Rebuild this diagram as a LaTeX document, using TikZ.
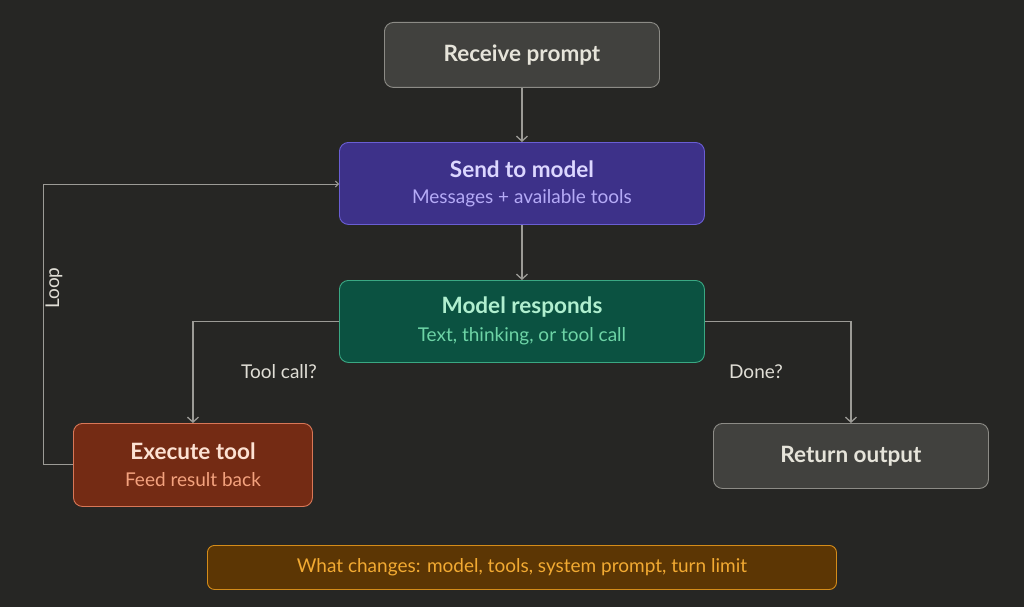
\documentclass[tikz,border=0pt]{standalone}
\usepackage{fontspec}
\setmainfont{Lato}
\usetikzlibrary{arrows.meta,positioning}
\definecolor{bg}{HTML}{262624}
\definecolor{grayfill}{HTML}{41413E}
\definecolor{grayline}{HTML}{8C8B86}
\definecolor{graytext}{HTML}{E6E4DA}
\definecolor{purfill}{HTML}{3D3189}
\definecolor{purline}{HTML}{6A5ED4}
\definecolor{purtitle}{HTML}{DCD7FF}
\definecolor{pursub}{HTML}{B5ABF7}
\definecolor{grnfill}{HTML}{0B5241}
\definecolor{grnline}{HTML}{3AA883}
\definecolor{grntitle}{HTML}{B0EFCF}
\definecolor{grnsub}{HTML}{6DD4A6}
\definecolor{redfill}{HTML}{742B14}
\definecolor{redline}{HTML}{D97757}
\definecolor{redtitle}{HTML}{FDE2D3}
\definecolor{redsub}{HTML}{F4A27E}
\definecolor{orfill}{HTML}{5C3604}
\definecolor{orline}{HTML}{D48C1A}
\definecolor{ortext}{HTML}{F2AA32}
\definecolor{conn}{HTML}{9C9B96}
\definecolor{lbl}{HTML}{E0DED6}
\tikzset{
  box/.style={rounded corners=9pt, line width=0.9pt, inner sep=0pt, anchor=north west},
  ttl/.style={font=\bfseries\fontsize{22.5}{26}\selectfont},
  sub/.style={font=\fontsize{19}{22}\selectfont},
  arr/.style={draw=conn, line width=1.5pt, -{Straight Barb[length=5pt,width=11pt,line width=1.3pt]}},
  larr/.style={draw=conn, line width=1pt, -{Straight Barb[length=3pt,width=6pt]}},
  lab/.style={text=lbl, font=\fontsize{19}{22}\selectfont}
}
\begin{document}
\begin{tikzpicture}[x=1pt,y=-1pt]
\fill[bg] (0,0) rectangle (1024,607);
\useasboundingbox (0,0) rectangle (1024,607);

% boxes
\node[box, draw=grayline, fill=grayfill, minimum width=275pt, minimum height=65pt] (recv) at (384,22) {};
\node[ttl, text=graytext] at (recv.center) {Receive prompt};

\node[box, draw=purline, fill=purfill, minimum width=365pt, minimum height=82pt] (send) at (339,142) {};
\node[ttl, text=purtitle] at ([yshift=14pt]send.center) {Send to model};
\node[sub, text=pursub] at ([yshift=-15pt]send.center) {Messages + available tools};

\node[box, draw=grnline, fill=grnfill, minimum width=365pt, minimum height=82pt] (resp) at (339,280) {};
\node[ttl, text=grntitle] at ([yshift=14pt]resp.center) {Model responds};
\node[sub, text=grnsub] at ([yshift=-15pt]resp.center) {Text, thinking, or tool call};

\node[box, draw=redline, fill=redfill, minimum width=239pt, minimum height=83pt] (exec) at (73,423) {};
\node[ttl, text=redtitle] at ([yshift=14pt]exec.center) {Execute tool};
\node[sub, text=redsub] at ([yshift=-15pt]exec.center) {Feed result back};

\node[box, draw=grayline, fill=grayfill, minimum width=275pt, minimum height=65pt] (ret) at (713,423) {};
\node[ttl, text=graytext] at (ret.center) {Return output};

\node[box, rounded corners=7pt, draw=orline, fill=orfill, minimum width=629pt, minimum height=44pt] (bar) at (207,545) {};
\node[text=ortext, font=\fontsize{19}{22}\selectfont] at (bar.center) {What changes: model, tools, system prompt, turn limit};

% connectors
\draw[arr] (recv.south) -- (send.north);
\draw[arr] (send.south) -- (resp.north);
\draw[arr] (resp.west) -| (exec.north);
\draw[arr] (resp.east) -| (ret.north);
\coordinate (lp1) at (43,464);
\coordinate (lp2) at (43,184);
\draw[larr] (exec.west |- lp1) -- (lp1) -- (lp2) -- (send.west |- lp2);

% labels
\node[lab, rotate=90] (looplbl) at (54,288) {Loop};
\node[lab] (tc) at (279,372) {Tool call?};
\node[lab] (dn) at (756,372) {Done?};
\end{tikzpicture}
\end{document}
